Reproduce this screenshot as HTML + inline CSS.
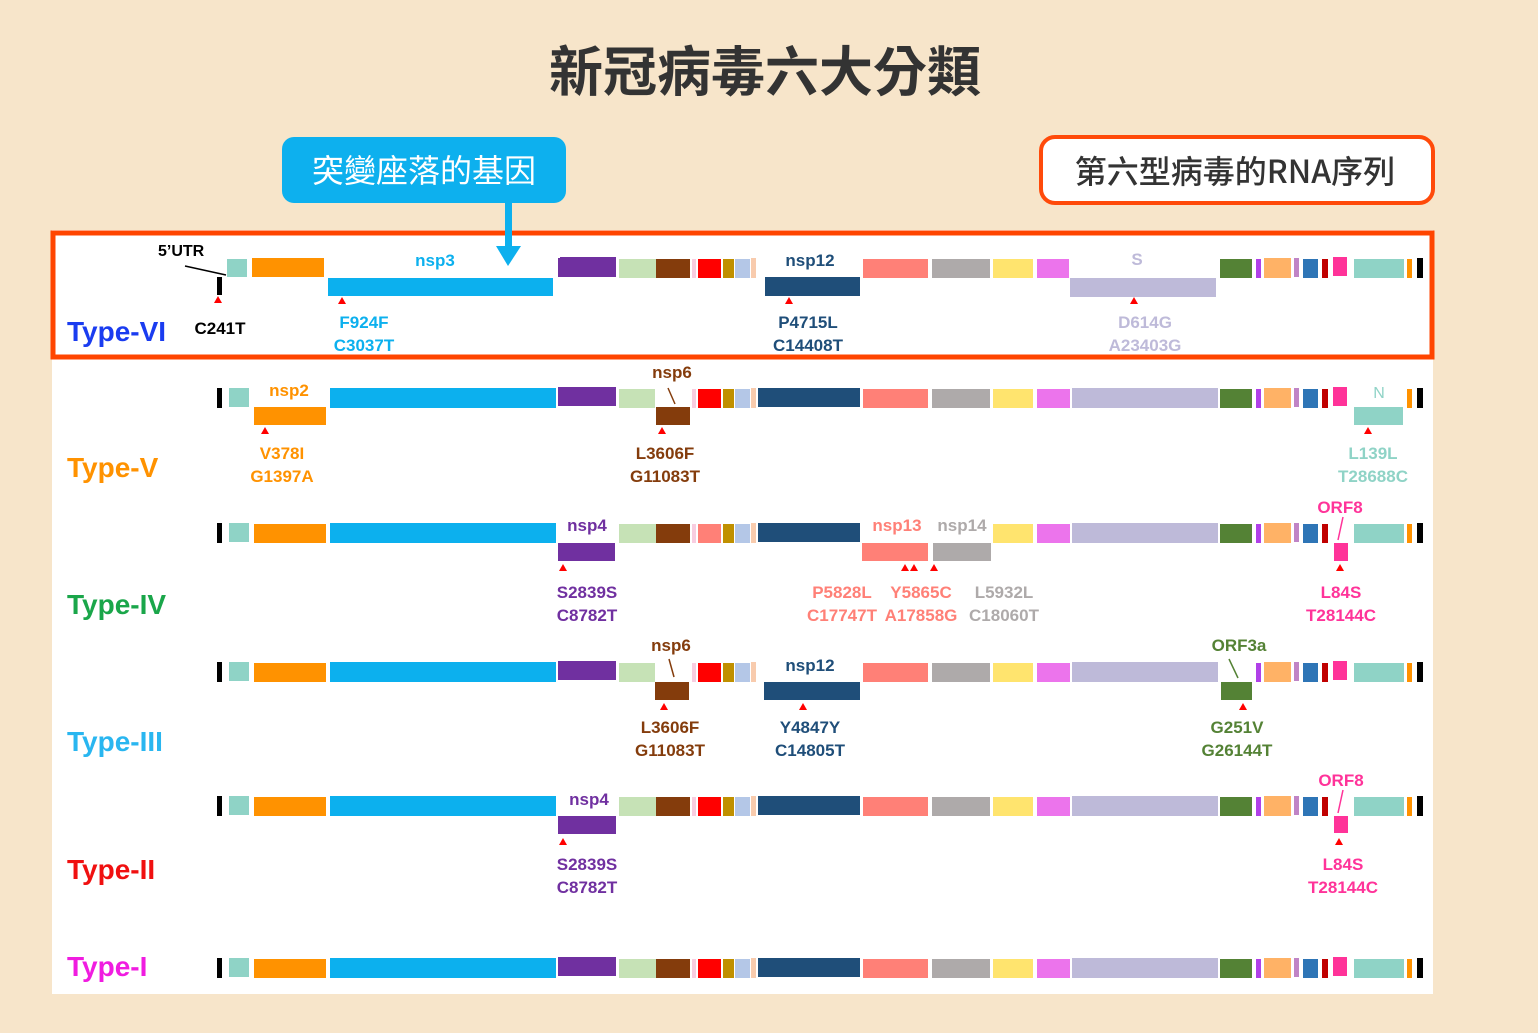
<!DOCTYPE html>
<html><head><meta charset="utf-8">
<style>
html,body{margin:0;padding:0;background:#f7e5ca;}
svg{display:block;}
text{font-family:"Liberation Sans","Noto Sans CJK TC",sans-serif;font-weight:bold;}
.cjk{font-family:"Noto Sans CJK TC","WenQuanYi Zen Hei",sans-serif;}
</style></head><body>
<svg width="1538" height="1033" viewBox="0 0 1538 1033" xmlns="http://www.w3.org/2000/svg">
<defs>
<g id="row">
<rect x="217" y="0" width="5" height="20" fill="#000"/>
<rect x="229" y="0" width="20" height="19" fill="#8fd3c6"/>
<rect x="254" y="1" width="72" height="19" fill="#ff9200"/>
<rect x="330" y="0" width="226" height="20" fill="#0cb0ee"/>
<rect x="558" y="-1" width="58" height="19" fill="#7030a0"/>
<rect x="619" y="1" width="37" height="19" fill="#c6e2b6"/>
<rect x="656" y="1" width="34" height="19" fill="#843c0c"/>
<rect x="692" y="1" width="4" height="19" fill="#f8cde0"/>
<rect x="698" y="1" width="23" height="19" fill="#ff0000"/>
<rect x="723" y="1" width="11" height="19" fill="#c09000"/>
<rect x="735" y="1" width="15" height="19" fill="#b4c7e7"/>
<rect x="751" y="0" width="5" height="20" fill="#f8cbad"/>
<rect x="758" y="0" width="102" height="19" fill="#1f4e79"/>
<rect x="863" y="1" width="65" height="19" fill="#ff8077"/>
<rect x="932" y="1" width="58" height="19" fill="#aeaaaa"/>
<rect x="993" y="1" width="40" height="19" fill="#ffe46e"/>
<rect x="1037" y="1" width="33" height="19" fill="#ec74ec"/>
<rect x="1072" y="0" width="146" height="20" fill="#bebad9"/>
<rect x="1220" y="1" width="32" height="19" fill="#548235"/>
<rect x="1256" y="1" width="5" height="19" fill="#b040e8"/>
<rect x="1264" y="0" width="27" height="20" fill="#ffb266"/>
<rect x="1294" y="0" width="5" height="19" fill="#c084c6"/>
<rect x="1303" y="1" width="15" height="19" fill="#2e75b6"/>
<rect x="1322" y="1" width="6" height="19" fill="#c00000"/>
<rect x="1333" y="-1" width="14" height="19" fill="#ff3399"/>
<rect x="1354" y="1" width="50" height="19" fill="#8fd3c6"/>
<rect x="1407" y="1" width="5" height="19" fill="#ff9200"/>
<rect x="1417" y="0" width="6" height="20" fill="#000"/>
</g>
<path id="tri" d="M-4 6 L0 -1 L4 6 Z" fill="#ff0000"/>
</defs>

<text x="765" y="91" text-anchor="middle" class="cjk" font-size="54" fill="#333">新冠病毒六大分類</text>

<rect x="282" y="137" width="284" height="66" rx="12" fill="#0db0ee"/>
<text x="424" y="182" text-anchor="middle" class="cjk" font-size="32" style="font-weight:normal" fill="#fff">突變座落的基因</text>

<rect x="1041" y="137" width="392" height="66" rx="14" fill="#fff" stroke="#ff4a0a" stroke-width="4"/>
<text x="1235" y="183" text-anchor="middle" class="cjk" font-size="32" style="font-weight:500" fill="#333">第六型病毒的RNA序列</text>

<rect x="52" y="230" width="1381" height="764" fill="#fff"/>
<rect x="53" y="233" width="1379" height="124" fill="none" stroke="#ff4500" stroke-width="5"/>

<text x="67" y="341" font-size="28" fill="#1a3cf0">Type-VI</text>
<text x="67" y="477" font-size="28" fill="#ff9200">Type-V</text>
<text x="67" y="614" font-size="28" fill="#1aa64a">Type-IV</text>
<text x="67" y="751" font-size="28" fill="#29b6f0">Type-III</text>
<text x="67" y="879" font-size="28" fill="#f01010">Type-II</text>
<text x="67" y="976" font-size="28" fill="#f01ce0">Type-I</text>

<!-- Type-VI -->
<use href="#row" y="258"/>
<rect x="215" y="256" width="345" height="23" fill="#fff"/>
<rect x="756" y="256" width="106" height="23" fill="#fff"/>
<rect x="1069" y="256" width="150" height="23" fill="#fff"/>
<rect x="227" y="259" width="20" height="18" fill="#8fd3c6"/>
<rect x="252" y="258" width="72" height="19" fill="#ff9200"/>
<rect x="217" y="277" width="5" height="18" fill="#000"/>
<rect x="328" y="278" width="225" height="18" fill="#0cb0ee"/>
<rect x="558" y="258" width="58" height="19" fill="#7030a0"/>
<rect x="765" y="277" width="95" height="19" fill="#1f4e79"/>
<rect x="1070" y="278" width="146" height="19" fill="#bebad9"/>
<line x1="185" y1="266" x2="226" y2="275" stroke="#000" stroke-width="1.5"/>
<text x="158" y="256" font-size="16" fill="#000">5’UTR</text>
<text x="435" y="266" text-anchor="middle" font-size="17" fill="#0cb0ee">nsp3</text>
<text x="810" y="266" text-anchor="middle" font-size="17" fill="#1f4e79">nsp12</text>
<text x="1137" y="265" text-anchor="middle" font-size="17" fill="#bebad9">S</text>
<use href="#tri" x="218" y="297"/>
<use href="#tri" x="342" y="298"/>
<use href="#tri" x="789" y="298"/>
<use href="#tri" x="1134" y="298"/>
<text x="220" y="334" text-anchor="middle" font-size="17" fill="#000">C241T</text>
<text x="364" y="328" text-anchor="middle" font-size="17" fill="#0cb0ee">F924F</text>
<text x="364" y="351" text-anchor="middle" font-size="17" fill="#0cb0ee">C3037T</text>
<text x="808" y="328" text-anchor="middle" font-size="17" fill="#1f4e79">P4715L</text>
<text x="808" y="351" text-anchor="middle" font-size="17" fill="#1f4e79">C14408T</text>
<text x="1145" y="328" text-anchor="middle" font-size="17" fill="#bebad9">D614G</text>
<text x="1145" y="351" text-anchor="middle" font-size="17" fill="#bebad9">A23403G</text>

<!-- Type-V -->
<use href="#row" y="388"/>
<rect x="252" y="385" width="76" height="24" fill="#fff"/>
<rect x="655" y="385" width="36" height="24" fill="#fff"/>
<rect x="1352" y="385" width="53" height="24" fill="#fff"/>
<rect x="254" y="407" width="72" height="18" fill="#ff9200"/>
<rect x="656" y="407" width="34" height="18" fill="#843c0c"/>
<rect x="1354" y="407" width="49" height="18" fill="#8fd3c6"/>
<line x1="668" y1="388" x2="675" y2="404" stroke="#843c0c" stroke-width="1.5"/>
<text x="289" y="396" text-anchor="middle" font-size="17" fill="#ff9200">nsp2</text>
<text x="672" y="378" text-anchor="middle" font-size="17" fill="#843c0c">nsp6</text>
<text x="1379" y="398" text-anchor="middle" font-size="16" style="font-weight:normal" fill="#8fd3c6">N</text>
<use href="#tri" x="265" y="428"/>
<use href="#tri" x="662" y="428"/>
<use href="#tri" x="1368" y="428"/>
<text x="282" y="459" text-anchor="middle" font-size="17" fill="#ff9200">V378I</text>
<text x="282" y="482" text-anchor="middle" font-size="17" fill="#ff9200">G1397A</text>
<text x="665" y="459" text-anchor="middle" font-size="17" fill="#843c0c">L3606F</text>
<text x="665" y="482" text-anchor="middle" font-size="17" fill="#843c0c">G11083T</text>
<text x="1373" y="459" text-anchor="middle" font-size="17" fill="#8fd3c6">L139L</text>
<text x="1373" y="482" text-anchor="middle" font-size="17" fill="#8fd3c6">T28688C</text>

<!-- Type-IV -->
<use href="#row" y="523"/>
<rect x="557" y="520" width="60" height="24" fill="#fff"/>
<rect x="862" y="520" width="130" height="24" fill="#fff"/>
<rect x="1331" y="520" width="18" height="24" fill="#fff"/>
<rect x="698" y="524" width="23" height="19" fill="#ff8077"/>
<rect x="558" y="543" width="57" height="18" fill="#7030a0"/>
<rect x="862" y="543" width="66" height="18" fill="#ff8077"/>
<rect x="933" y="543" width="58" height="18" fill="#aeaaaa"/>
<rect x="1334" y="543" width="14" height="18" fill="#ff3399"/>
<line x1="1343" y1="517" x2="1338" y2="540" stroke="#ff3399" stroke-width="1.5"/>
<text x="587" y="531" text-anchor="middle" font-size="17" fill="#7030a0">nsp4</text>
<text x="897" y="531" text-anchor="middle" font-size="17" fill="#ff8077">nsp13</text>
<text x="962" y="531" text-anchor="middle" font-size="17" fill="#aeaaaa">nsp14</text>
<text x="1340" y="513" text-anchor="middle" font-size="17" fill="#ff3399">ORF8</text>
<use href="#tri" x="563" y="565"/>
<use href="#tri" x="905" y="565"/>
<use href="#tri" x="914" y="565"/>
<use href="#tri" x="934" y="565"/>
<use href="#tri" x="1340" y="565"/>
<text x="587" y="598" text-anchor="middle" font-size="17" fill="#7030a0">S2839S</text>
<text x="587" y="621" text-anchor="middle" font-size="17" fill="#7030a0">C8782T</text>
<text x="842" y="598" text-anchor="middle" font-size="17" fill="#ff8077">P5828L</text>
<text x="842" y="621" text-anchor="middle" font-size="17" fill="#ff8077">C17747T</text>
<text x="921" y="598" text-anchor="middle" font-size="17" fill="#ff8077">Y5865C</text>
<text x="921" y="621" text-anchor="middle" font-size="17" fill="#ff8077">A17858G</text>
<text x="1004" y="598" text-anchor="middle" font-size="17" fill="#aeaaaa">L5932L</text>
<text x="1004" y="621" text-anchor="middle" font-size="17" fill="#aeaaaa">C18060T</text>
<text x="1341" y="598" text-anchor="middle" font-size="17" fill="#ff3399">L84S</text>
<text x="1341" y="621" text-anchor="middle" font-size="17" fill="#ff3399">T28144C</text>

<!-- Type-III -->
<use href="#row" y="662"/>
<rect x="655" y="659" width="36" height="24" fill="#fff"/>
<rect x="757" y="659" width="104" height="24" fill="#fff"/>
<rect x="1219" y="659" width="34" height="24" fill="#fff"/>
<rect x="655" y="682" width="34" height="18" fill="#843c0c"/>
<rect x="764" y="682" width="96" height="18" fill="#1f4e79"/>
<rect x="1221" y="682" width="31" height="18" fill="#548235"/>
<line x1="669" y1="659" x2="674" y2="677" stroke="#843c0c" stroke-width="1.5"/>
<line x1="1229" y1="659" x2="1238" y2="678" stroke="#548235" stroke-width="1.5"/>
<text x="671" y="651" text-anchor="middle" font-size="17" fill="#843c0c">nsp6</text>
<text x="810" y="671" text-anchor="middle" font-size="17" fill="#1f4e79">nsp12</text>
<text x="1239" y="651" text-anchor="middle" font-size="17" fill="#548235">ORF3a</text>
<use href="#tri" x="664" y="704"/>
<use href="#tri" x="803" y="704"/>
<use href="#tri" x="1243" y="704"/>
<text x="670" y="733" text-anchor="middle" font-size="17" fill="#843c0c">L3606F</text>
<text x="670" y="756" text-anchor="middle" font-size="17" fill="#843c0c">G11083T</text>
<text x="810" y="733" text-anchor="middle" font-size="17" fill="#1f4e79">Y4847Y</text>
<text x="810" y="756" text-anchor="middle" font-size="17" fill="#1f4e79">C14805T</text>
<text x="1237" y="733" text-anchor="middle" font-size="17" fill="#548235">G251V</text>
<text x="1237" y="756" text-anchor="middle" font-size="17" fill="#548235">G26144T</text>

<!-- Type-II -->
<use href="#row" y="796"/>
<rect x="557" y="793" width="60" height="24" fill="#fff"/>
<rect x="1331" y="793" width="18" height="24" fill="#fff"/>
<rect x="558" y="816" width="58" height="18" fill="#7030a0"/>
<rect x="1334" y="816" width="14" height="17" fill="#ff3399"/>
<line x1="1343" y1="790" x2="1338" y2="813" stroke="#ff3399" stroke-width="1.5"/>
<text x="589" y="805" text-anchor="middle" font-size="17" fill="#7030a0">nsp4</text>
<text x="1341" y="786" text-anchor="middle" font-size="17" fill="#ff3399">ORF8</text>
<use href="#tri" x="563" y="839"/>
<use href="#tri" x="1339" y="839"/>
<text x="587" y="870" text-anchor="middle" font-size="17" fill="#7030a0">S2839S</text>
<text x="587" y="893" text-anchor="middle" font-size="17" fill="#7030a0">C8782T</text>
<text x="1343" y="870" text-anchor="middle" font-size="17" fill="#ff3399">L84S</text>
<text x="1343" y="893" text-anchor="middle" font-size="17" fill="#ff3399">T28144C</text>

<!-- Type-I -->
<use href="#row" y="958"/>

<!-- arrow on top -->
<rect x="505" y="200" width="7" height="50" fill="#0db0ee"/>
<path d="M496 246 L521 246 L508 266 Z" fill="#0db0ee"/>
</svg>
</body></html>
